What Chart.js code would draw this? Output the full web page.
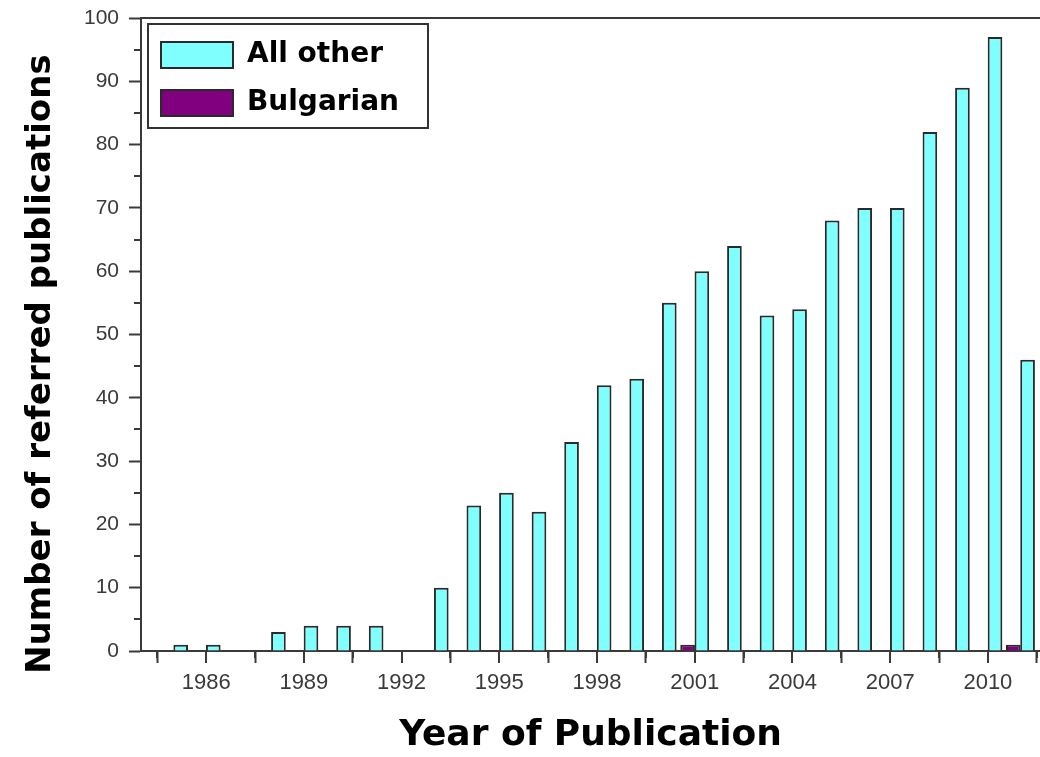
<!DOCTYPE html>
<html>
<head>
<meta charset="utf-8">
<script src="https://cdn.jsdelivr.net/npm/chart.js@4"></script>
<style>
  html, body { margin: 0; padding: 0; background: #fff; }
  #wrap { width: 1040px; height: 757px; }
</style>
</head>
<body>
<div id="wrap"><canvas id="chart" width="1040" height="757"></canvas></div>
<script>
// 年（各年のビンは year〜year+1）
const years = [1985, 1986, 1987, 1988, 1989, 1990, 1991, 1992, 1993, 1994, 1995, 1996, 1997, 1998,
               1999, 2000, 2001, 2002, 2003, 2004, 2005, 2006, 2007, 2008, 2009, 2010, 2011];
// All other の件数
const allOther = [1, 1, 0, 3, 4, 4, 4, 0, 10, 23, 25, 22, 33, 42,
                  43, 55, 60, 64, 53, 54, 68, 70, 70, 82, 89, 97, 46];
// Bulgarian の件数
const bulgarian = [0, 0, 0, 0, 0, 0, 0, 0, 0, 0, 0, 0, 0, 0,
                   0, 1, 0, 0, 0, 0, 0, 0, 0, 0, 0, 1, 0];
// 目盛り
const xMajorTicks = [1986, 1989, 1992, 1995, 1998, 2001, 2004, 2007, 2010];
const xMinorTicks = [1984.5, 1987.5, 1990.5, 1993.5, 1996.5, 1999.5, 2002.5, 2005.5, 2008.5, 2011.5];
const xMin = 1984, xMax = 2011.6;
const yMin = 0, yMax = 100;

const AXIS = "#3a3a3a";
const TITLE_FONT = "'DejaVu Sans', sans-serif";
const TICK_FONT = "'Liberation Sans', Arial, sans-serif";

// 0 はバーを描かない
function toPoints(vals) {
    return years.map((y, i) => ({ x: y + 0.5, y: vals[i] === 0 ? null : vals[i] }));
}

// 目盛り線（長・短）と凡例の枠を描くプラグイン
const extras = {
    id: "extras",
    afterDraw(chart) {
        const ctx = chart.ctx;
        const xs = chart.scales.x, ys = chart.scales.y;
        const area = chart.chartArea;
        ctx.save();
        ctx.strokeStyle = AXIS;
        ctx.lineWidth = 2;
        ctx.beginPath();
        xMajorTicks.forEach(v => {
            const px = Math.round(xs.getPixelForValue(v));
            ctx.moveTo(px, area.bottom);
            ctx.lineTo(px, area.bottom + 12);
        });
        xMinorTicks.forEach(v => {
            const px = Math.round(xs.getPixelForValue(v));
            if (px > area.right) return;
            ctx.moveTo(px, area.bottom);
            ctx.lineTo(px, area.bottom + 7);
        });
        for (let v = yMin + 5; v < yMax; v += 10) {
            const py = Math.round(ys.getPixelForValue(v));
            ctx.moveTo(area.left, py);
            ctx.lineTo(area.left - 7, py);
        }
        ctx.stroke();

        // 凡例の枠
        const lg = chart.legend;
        if (lg) {
            const x0 = area.left + 7, y0 = area.top + 6;
            ctx.lineWidth = 2;
            ctx.strokeStyle = "#333";
            ctx.strokeRect(x0, y0, 280, 104);
        }
        ctx.restore();
    }
};

const ctx = document.getElementById("chart").getContext("2d");
const chart = new Chart(ctx, {
    type: "bar",
    data: {
        datasets: [
            {
                label: "All other",
                data: toPoints(allOther),
                backgroundColor: "#80ffff",
                borderColor: "#2a2a2a",
                borderWidth: 2,
                categoryPercentage: 1.125,
                barPercentage: 0.8
            },
            {
                label: "Bulgarian",
                data: toPoints(bulgarian),
                backgroundColor: "#800080",
                borderColor: "#2a2a2a",
                borderWidth: 2,
                categoryPercentage: 1.125,
                barPercentage: 0.8
            }
        ]
    },
    options: {
        responsive: false,
        animation: false,
        layout: { padding: { top: 18, left: 0, right: 0, bottom: 0 } },
        plugins: {
            tooltip: { enabled: false },
            legend: {
                position: "chartArea",
                align: "start",
                title: { display: true, text: "", padding: 4.5, font: { size: 10 } },
                labels: {
                    boxWidth: 72,
                    boxHeight: 26,
                    padding: 20,
                    color: "#000",
                    font: { family: TITLE_FONT, size: 28, weight: "bold" }
                }
            }
        },
        scales: {
            x: {
                type: "linear",
                position: "bottom",
                min: xMin,
                max: xMax,
                offset: false,
                afterBuildTicks: s => { s.ticks = xMajorTicks.map(v => ({ value: v })); },
                afterFit: s => { s.height = 106; },
                grid: { drawOnChartArea: false, tickLength: 12, tickColor: AXIS, tickWidth: 2 },
                border: { color: AXIS, width: 2 },
                ticks: {
                    color: "#3a3a3a",
                    padding: 7,
                    maxRotation: 0,
                    autoSkip: false,
                    font: { family: TICK_FONT, size: 22 },
                    callback: v => String(v)
                },
                title: {
                    display: true,
                    text: "Year of Publication",
                    color: "#000",
                    padding: { top: 0, bottom: 0 },
                    font: { family: TITLE_FONT, size: 36, weight: "bold" }
                }
            },
            x2: {
                type: "linear",
                position: "top",
                min: xMin,
                max: xMax,
                grid: { display: false, drawTicks: false },
                border: { display: true, color: AXIS, width: 2 },
                ticks: { display: false },
                afterFit: s => { s.height = 0; }
            },
            y: {
                type: "linear",
                min: yMin,
                max: yMax,
                afterFit: s => { s.width = 141; },
                grid: {
                    drawOnChartArea: false,
                    tickLength: 12,
                    tickWidth: 2,
                    tickColor: c => (c.tick && c.tick.value % 10 === 0) ? AXIS : "transparent"
                },
                border: { color: AXIS, width: 2 },
                ticks: {
                    stepSize: 5,
                    color: "#3a3a3a",
                    padding: 10,
                    font: { family: TICK_FONT, size: 21, lineHeight: 0.75 },
                    callback: v => (v % 10 === 0 ? String(v) : "")
                },
                title: {
                    display: true,
                    text: "Number of referred publications     ",
                    color: "#000",
                    padding: { top: 21, bottom: 0 },
                    font: { family: TITLE_FONT, size: 34, weight: "bold" }
                }
            }
        }
    },
    plugins: [extras]
});
</script>
</body>
</html>
